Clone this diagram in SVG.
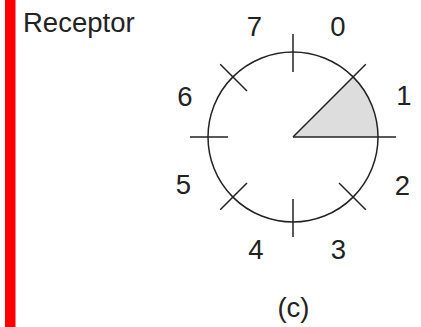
<svg xmlns="http://www.w3.org/2000/svg" width="421" height="327" viewBox="0 0 421 327">
<style>
.t{font-family:"Liberation Sans",Arial,sans-serif;font-size:27.5px;fill:#222;text-anchor:middle}
.s{stroke:#222;stroke-width:1.5;fill:none}
</style>
<rect x="0" y="0" width="421" height="327" fill="#fff"/>
<rect id="bar" x="5" y="0" width="10.5" height="327" fill="#f00"/>
<g id="title"><text class="t" x="23" y="32" style="text-anchor:start">Receptor</text></g>
<g id="dial">
<path d="M293,137 L378,137 A85,85 0 0 0 353.1,76.9 Z" fill="#ddd"/>
<circle class="s" cx="293" cy="137" r="85"/>
</g>
<g id="ticks" class="s">
<line x1="293" y1="137" x2="396" y2="137"/>
<line x1="293" y1="137" x2="365.8" y2="64.2"/>
<line x1="293" y1="34" x2="293" y2="72"/>
<line x1="220.2" y1="64.2" x2="247" y2="91"/>
<line x1="190" y1="137" x2="228" y2="137"/>
<line x1="220.2" y1="209.8" x2="247" y2="183"/>
<line x1="293" y1="199" x2="293" y2="237"/>
<line x1="339" y1="183" x2="365.8" y2="209.8"/>
</g>
<g id="labels">
<text class="t" x="338" y="36">0</text>
<text class="t" x="404" y="105">1</text>
<text class="t" x="402.5" y="195">2</text>
<text class="t" x="338.3" y="258.5">3</text>
<text class="t" x="256" y="258.5">4</text>
<text class="t" x="183.5" y="193.5">5</text>
<text class="t" x="185" y="105.5">6</text>
<text class="t" x="254.5" y="36">7</text>
<text class="t" x="293.5" y="317">(c)</text>
</g>
</svg>
